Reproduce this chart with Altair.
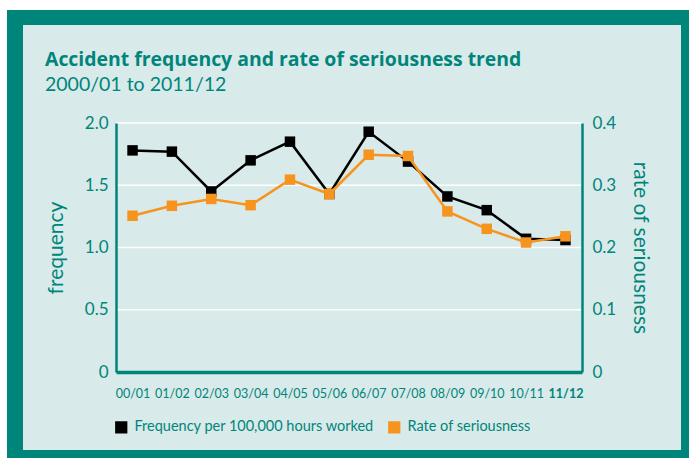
import altair as alt
import pandas as pd

years = ["00/01", "01/02", "02/03", "03/04", "04/05", "05/06",
         "06/07", "07/08", "08/09", "09/10", "10/11", "11/12"]
frequency = [1.78, 1.77, 1.45, 1.70, 1.85, 1.43, 1.93, 1.69, 1.41, 1.30, 1.07, 1.06]
seriousness = [0.251, 0.267, 0.278, 0.268, 0.309, 0.286, 0.349, 0.347, 0.258, 0.230, 0.208, 0.218]
series = ["Frequency per 100,000 hours worked", "Rate of seriousness"]
series_colors = ["#000000", "#f7941d"]
grid_values = [0.5, 1.0, 1.5, 2.0]
freq_ticks = [0, 0.5, 1.0, 1.5, 2.0]
rate_ticks = [0, 0.1, 0.2, 0.3, 0.4]
title_text = "Accident frequency and rate of seriousness trend"
subtitle_text = "2000/01 to 2011/12"

TEAL = "#00857a"
LIGHT = "#d9eaea"
FONT = "Lato"

df = pd.DataFrame({"year": years, "frequency": frequency, "seriousness": seriousness,
                   "s_freq": [series[0]] * len(years), "s_rate": [series[1]] * len(years)})
one = pd.DataFrame({"k": [0]})

W, H = 466, 249

xenc = alt.X("year:N", sort=years,
             scale=alt.Scale(type="point", padding=0.42),
             axis=alt.Axis(title=None, labelAngle=0, ticks=False, zindex=2,
                           labelFontSize=12.5, labelPadding=15, labelFont=FONT,
                           labelColor=TEAL, domainColor=TEAL, domainWidth=3.5,
                           labelFontWeight={"condition": {"test": "datum.value == '11/12'", "value": "bold"}, "value": "normal"}))

# decorative frame
frame_outer = alt.Chart(one).mark_rect(color=TEAL).encode(
    x=alt.value(-109), x2=alt.value(600), y=alt.value(-113), y2=alt.value(360))
frame_inner = alt.Chart(one).mark_rect(color=LIGHT).encode(
    x=alt.value(-93), x2=alt.value(565), y=alt.value(-98), y2=alt.value(327))

title = alt.Chart(one).mark_text(text=title_text, font="Open Sans", fontSize=19.4, fontWeight="bold",
                                 color=TEAL, align="left", baseline="alphabetic").encode(
    x=alt.value(-71), y=alt.value(-57))
subtitle = alt.Chart(one).mark_text(text=subtitle_text, font=FONT, fontSize=19.5,
                                    color=TEAL, align="left", baseline="alphabetic").encode(
    x=alt.value(-71), y=alt.value(-32))

yleft = alt.Y("frequency:Q", scale=alt.Scale(domain=[0, 2]),
              axis=alt.Axis(title="frequency", values=freq_ticks, grid=False, ticks=False, zindex=2,
                            labelExpr="datum.value == 0 ? '0' : format(datum.value, '.1f')",
                            labelFontSize=17, labelPadding=8, labelColor=TEAL, labelFont=FONT,
                            domainColor=TEAL, domainWidth=2.5, titleFont=FONT,
                            titleFontSize=21, titleFontWeight="normal", titleColor=TEAL,
                            titlePadding=18))

grid = alt.Chart(pd.DataFrame({"frequency": grid_values})).mark_rule(
    color="white", strokeWidth=1.5).encode(y=yleft)

freq_line = alt.Chart(df).mark_line(color="black", strokeWidth=2.5).encode(x=xenc, y=yleft)
color_scale = alt.Scale(domain=series, range=series_colors)
legend = alt.Legend(title=None, orient="none", legendX=-2, legendY=297, direction="horizontal",
                    columns=2, columnPadding=12, symbolType="square", symbolSize=150,
                    symbolStrokeWidth=0, labelFont=FONT, labelFontSize=14.5, labelColor=TEAL,
                    labelOffset=6, labelLimit=400)
freq_pts = alt.Chart(df).mark_square(size=110, opacity=1).encode(
    x=xenc, y=alt.Y("frequency:Q"),
    color=alt.Color("s_freq:N", scale=color_scale, legend=legend))

left = alt.layer(frame_outer, frame_inner, title, subtitle, grid, freq_line, freq_pts)

yright = alt.Y("seriousness:Q", scale=alt.Scale(domain=[0, 0.4]),
               axis=alt.Axis(title="rate of seriousness", orient="right", values=rate_ticks,
                             grid=False, ticks=False, zindex=2,
                             labelExpr="datum.value == 0 ? '0' : format(datum.value, '.1f')",
                             labelFontSize=17, labelPadding=10, labelColor=TEAL, labelFont=FONT,
                             domainColor=TEAL, domainWidth=2.5, titleFont=FONT,
                             titleFontSize=21, titleFontWeight="normal", titleColor=TEAL,
                             titlePadding=14))
rate_line = alt.Chart(df).mark_line(color="#f7941d", strokeWidth=2.5).encode(x=xenc, y=yright)
rate_pts = alt.Chart(df).mark_square(size=110, opacity=1).encode(
    x=xenc, y=alt.Y("seriousness:Q"),
    color=alt.Color("s_rate:N", scale=color_scale, legend=legend))
right = alt.layer(rate_line, rate_pts)

chart = alt.layer(left, right).resolve_scale(y="independent").properties(
    width=W, height=H,
    autosize=alt.AutoSizeParams(type="none"),
    padding={"left": 116, "top": 123, "right": 107, "bottom": 86},
    background="white",
).configure_view(stroke=None)

chart.save("out.html", embed_options={"renderer": "svg", "actions": False})
